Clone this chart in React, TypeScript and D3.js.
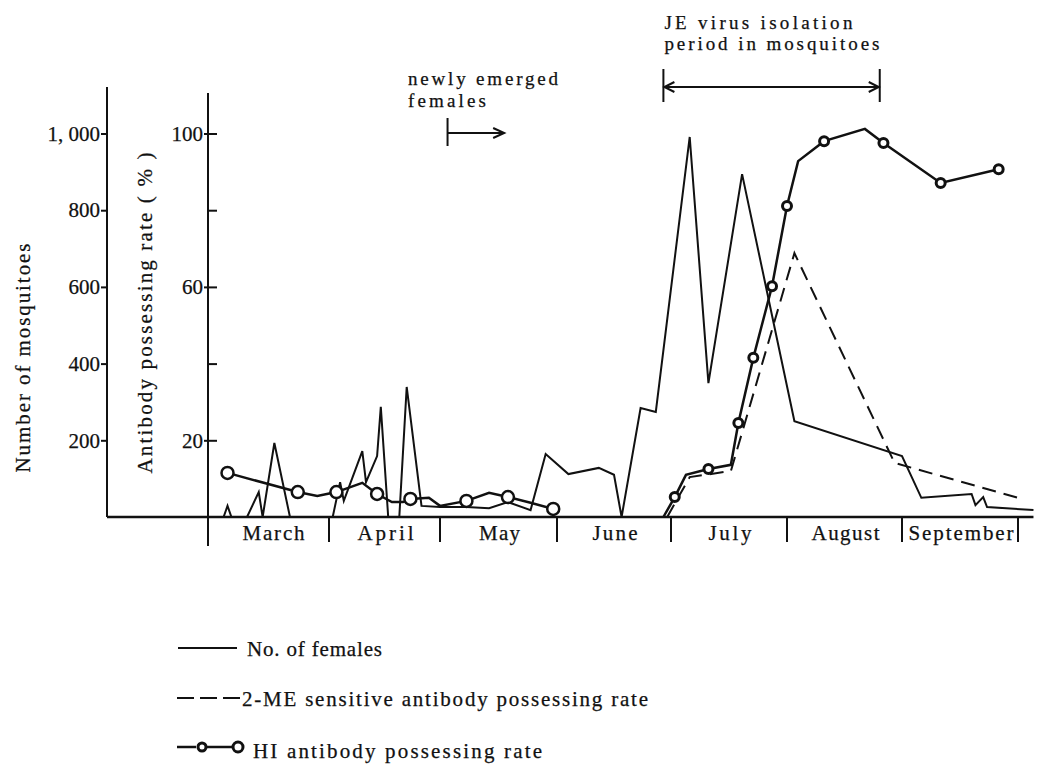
import React, { useEffect, useRef } from "react";
import * as d3 from "d3";

// month boundaries (Mar 1 .. Oct 1) and labels
const monthStarts = ["03-01", "04-01", "05-01", "06-01", "07-01", "08-01", "09-01", "10-01"];
const monthNames = ["March", "April", "May", "June", "July", "August", "September"];

// No. of females (number of mosquitoes)
const femaleDates = [
    "03-05", "03-06", "03-07", "03-11", "03-14", "03-15", "03-18", "03-22",
    "04-02", "04-04", "04-05", "04-10", "04-11", "04-14", "04-15", "04-17", "04-20", "04-22", "04-26",
    "05-01", "05-08", "05-14", "05-19", "05-25", "05-29",
    "06-04", "06-12", "06-16", "06-18", "06-23", "06-27",
    "07-06", "07-11", "07-20", "08-03",
    "09-01", "09-06", "09-19", "09-20", "09-22", "09-23", "10-05"
];
const femaleCounts = [
    0, 29, 0, 0, 65, 0, 193, 0,
    0, 91, 42, 172, 91, 159, 287, 0, 0, 339, 29,
    26, 26, 23, 39, 18, 164,
    112, 128, 110, 0, 284, 274,
    991, 349, 894, 250,
    159, 50, 60, 31, 52, 26, 18
];

// HI antibody possessing rate (%), spring part
const hiSpringDates = ["03-06", "03-24", "03-29", "04-03", "04-10", "04-14", "04-18", "04-21", "04-23", "04-28", "05-01", "05-08", "05-14", "05-19", "05-25", "05-31"];
const hiSpringRates = [11.5, 6.5, 5.5, 6.5, 8.9, 6.0, 3.9, 3.9, 4.7, 5.0, 2.9, 4.2, 6.3, 5.2, 3.7, 2.1];
const hiSpringMarked = [1, 1, 0, 1, 0, 1, 0, 0, 1, 0, 0, 1, 0, 1, 0, 1];

// HI antibody possessing rate (%), summer part
const hiSummerDates = ["06-29", "07-02", "07-05", "07-11", "07-17", "07-19", "07-23", "07-28", "08-01", "08-04", "08-11", "08-22", "08-27", "09-11", "09-26"];
const hiSummerRates = [0, 5.2, 11.0, 12.5, 13.6, 24.5, 41.5, 60.2, 81.1, 92.8, 98.0, 101.2, 97.5, 87.1, 90.7];
const hiSummerMarked = [0, 1, 0, 1, 0, 1, 1, 1, 1, 0, 1, 0, 1, 1, 1];

// 2-ME sensitive antibody possessing rate (%)
const meDates = ["06-30", "07-06", "07-17", "08-03", "08-30", "10-01"];
const meRates = [0, 10.4, 12.0, 68.8, 14.1, 5.0];

const countTicks = [200, 400, 600, 800, 1000];
const rateTicks = [20, 40, 60, 80, 100];
const rateLabelled = [20, 60, 100];

// annotation periods
const emergeStart = "05-03";
const emergeEnd = "05-18";
const jeStart = "06-29";
const jeEnd = "08-26";

const FONT = "Liberation Serif, Tinos, DejaVu Serif, serif";
// printed widths of the labels in the original (wide typesetting)
const monthWidths = [62, 56, 41, 45, 43, 68, 105];

const App = () => {
    const svgRef = useRef(null);

    useEffect(() => {
        const width = 1041;
        const height = 765;
        const base = 517;

        const svg = d3.select(svgRef.current)
            .attr("width", width)
            .attr("height", height)
            .style("background", "#fff");

        svg.selectAll("*").remove();

        const parse = d3.timeParse("%Y-%m-%d");
        const day = (md) => parse("2001-" + md);

        const x = d3.scaleTime()
            .domain(monthStarts.map(day))
            .range([208, 329, 440, 557, 671, 787, 902, 1018]);
        const yCount = d3.scaleLinear().domain([0, 1000]).range([base, 133.5]);
        const yRate = d3.scaleLinear().domain([0, 100]).range([base, 133.5]);

        const txt = (sel) => sel
            .style("font-family", FONT)
            .style("font-size", "21px")
            .attr("fill", "#111")
            .attr("stroke", "#111")
            .attr("stroke-width", 0.25);

        const label = (g, str, w) => g.append("text")
            .call(txt)
            .attr("textLength", w)
            .attr("lengthAdjust", "spacing")
            .text(str);

        // left axis (number of mosquitoes)
        const leftAxis = svg.append("g")
            .attr("transform", "translate(107,0)")
            .call(d3.axisLeft(yCount)
                .tickValues(countTicks)
                .tickSize(6)
                .tickPadding(1)
                .tickFormat(d => d === 1000 ? "1, 000" : String(d)));
        leftAxis.select(".domain").remove();
        leftAxis.selectAll("line").attr("stroke", "#111").attr("stroke-width", 2);
        leftAxis.selectAll("text").call(txt);

        svg.append("line")
            .attr("x1", 107).attr("x2", 107)
            .attr("y1", 87).attr("y2", base)
            .attr("stroke", "#111").attr("stroke-width", 2);

        // right axis (antibody rate)
        const rightAxis = svg.append("g")
            .attr("transform", "translate(217,0)")
            .call(d3.axisLeft(yRate)
                .tickValues(rateTicks)
                .tickSize(13)
                .tickPadding(1)
                .tickFormat(d => rateLabelled.includes(d) ? String(d) : ""));
        rightAxis.select(".domain").remove();
        rightAxis.selectAll("line")
            .attr("stroke", "#111").attr("stroke-width", 2)
            .attr("x2", d => rateLabelled.includes(d) ? -13 : -9);
        rightAxis.selectAll("text").call(txt);

        svg.append("line")
            .attr("x1", 208).attr("x2", 208)
            .attr("y1", 93).attr("y2", 546)
            .attr("stroke", "#111").attr("stroke-width", 2);

        // baseline
        svg.append("line")
            .attr("x1", 107).attr("x2", x(day("10-05")))
            .attr("y1", base).attr("y2", base)
            .attr("stroke", "#111").attr("stroke-width", 2.5);

        // month dividers and labels
        svg.selectAll(".divider")
            .data(monthStarts.slice(1))
            .enter()
            .append("line")
            .attr("x1", d => x(day(d)))
            .attr("x2", d => x(day(d)))
            .attr("y1", base)
            .attr("y2", base + 25)
            .attr("stroke", "#111")
            .attr("stroke-width", 2);

        monthNames.forEach((m, i) => {
            const cx = (x(day(monthStarts[i])) + x(day(monthStarts[i + 1]))) / 2 + (i === 0 ? 5 : 1);
            label(svg, m, monthWidths[i])
                .attr("x", cx)
                .attr("y", base + 23)
                .attr("text-anchor", "middle");
        });

        // axis titles
        label(svg, "Number of mosquitoes", 229)
            .attr("transform", "translate(30,358) rotate(-90)")
            .attr("text-anchor", "middle");

        label(svg, "Antibody possessing rate ( % )", 321)
            .attr("transform", "translate(152,313) rotate(-90)")
            .attr("text-anchor", "middle");

        // No. of females
        const females = femaleDates.map((d, i) => ({ date: day(d), v: femaleCounts[i] }));
        svg.append("path")
            .datum(females)
            .attr("fill", "none")
            .attr("stroke", "#111")
            .attr("stroke-width", 2)
            .attr("d", d3.line().x(d => x(d.date)).y(d => yCount(d.v)));

        // 2-ME sensitive
        const me = meDates.map((d, i) => ({ date: day(d), v: meRates[i] }));
        svg.append("path")
            .datum(me)
            .attr("fill", "none")
            .attr("stroke", "#111")
            .attr("stroke-width", 2)
            .attr("stroke-dasharray", "14,8")
            .attr("d", d3.line().x(d => x(d.date)).y(d => yRate(d.v)));

        // HI antibody
        const rateLine = d3.line().x(d => x(d.date)).y(d => yRate(d.v));
        const hiParts = [
            { dates: hiSpringDates, rates: hiSpringRates, marked: hiSpringMarked, r: 6, sw: 2.5 },
            { dates: hiSummerDates, rates: hiSummerRates, marked: hiSummerMarked, r: 4.5, sw: 3 }
        ];
        hiParts.forEach(part => {
            const pts = part.dates.map((d, i) => ({ date: day(d), v: part.rates[i], m: part.marked[i] }));
            svg.append("path")
                .datum(pts)
                .attr("fill", "none")
                .attr("stroke", "#111")
                .attr("stroke-width", 2.5)
                .attr("d", rateLine);
            svg.append("g")
                .selectAll("circle")
                .data(pts.filter(p => p.m))
                .enter()
                .append("circle")
                .attr("cx", d => x(d.date))
                .attr("cy", d => yRate(d.v))
                .attr("r", part.r)
                .attr("fill", "#fff")
                .attr("stroke", "#111")
                .attr("stroke-width", part.sw);
        });

        // annotation: newly emerged females
        label(svg, "newly emerged", 150).attr("x", 408).attr("y", 85).style("font-size", "19px");
        label(svg, "females", 78).attr("x", 408).attr("y", 107).style("font-size", "19px");
        const ex0 = x(day(emergeStart));
        const ex1 = x(day(emergeEnd));
        svg.append("line")
            .attr("x1", ex0).attr("x2", ex0).attr("y1", 118).attr("y2", 146)
            .attr("stroke", "#111").attr("stroke-width", 2);
        svg.append("line")
            .attr("x1", ex0).attr("x2", ex1).attr("y1", 133).attr("y2", 133)
            .attr("stroke", "#111").attr("stroke-width", 2);
        svg.append("path")
            .attr("d", `M${ex1 - 11},128 L${ex1},133 L${ex1 - 11},138`)
            .attr("fill", "none").attr("stroke", "#111").attr("stroke-width", 2);

        // annotation: JE virus isolation period
        const jx0 = x(day(jeStart));
        const jx1 = x(day(jeEnd));
        label(svg, "JE virus isolation", 188).attr("x", jx0 + 1).attr("y", 29).style("font-size", "19px");
        label(svg, "period in mosquitoes", 215).attr("x", jx0 + 1).attr("y", 50).style("font-size", "19px");
        [jx0, jx1].forEach(xx => {
            svg.append("line")
                .attr("x1", xx).attr("x2", xx).attr("y1", 69).attr("y2", 102)
                .attr("stroke", "#111").attr("stroke-width", 2);
        });
        svg.append("line")
            .attr("x1", jx0).attr("x2", jx1).attr("y1", 87).attr("y2", 87)
            .attr("stroke", "#111").attr("stroke-width", 2);
        svg.append("path")
            .attr("d", `M${jx0 + 11},82 L${jx0 + 1},87 L${jx0 + 11},92 M${jx1 - 11},82 L${jx1 - 1},87 L${jx1 - 11},92`)
            .attr("fill", "none").attr("stroke", "#111").attr("stroke-width", 2);

        // legend
        const lg = svg.append("g");
        lg.append("line")
            .attr("x1", 178).attr("x2", 237).attr("y1", 648).attr("y2", 648)
            .attr("stroke", "#111").attr("stroke-width", 2);
        label(lg, "No. of females", 135).attr("x", 247).attr("y", 656);

        lg.append("line")
            .attr("x1", 177).attr("x2", 240).attr("y1", 698).attr("y2", 698)
            .attr("stroke", "#111").attr("stroke-width", 2)
            .attr("stroke-dasharray", "17,6");
        label(lg, "2-ME sensitive antibody possessing rate", 406).attr("x", 242).attr("y", 706);

        lg.append("line")
            .attr("x1", 177).attr("x2", 196).attr("y1", 747).attr("y2", 747)
            .attr("stroke", "#111").attr("stroke-width", 2.5);
        lg.append("line")
            .attr("x1", 206).attr("x2", 233).attr("y1", 747).attr("y2", 747)
            .attr("stroke", "#111").attr("stroke-width", 2.5);
        lg.append("circle").attr("cx", 202).attr("cy", 747).attr("r", 4)
            .attr("fill", "#fff").attr("stroke", "#111").attr("stroke-width", 3);
        lg.append("circle").attr("cx", 238).attr("cy", 747).attr("r", 5)
            .attr("fill", "#fff").attr("stroke", "#111").attr("stroke-width", 3);
        label(lg, "HI antibody possessing rate", 289).attr("x", 253).attr("y", 758);
    }, []);

    return <svg ref={svgRef} style={{ position: "absolute", left: 0, top: 0 }}></svg>;
};

export default App;
